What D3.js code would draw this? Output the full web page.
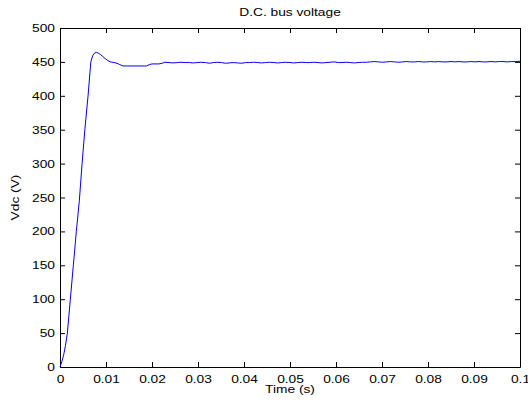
<!DOCTYPE html>
<html>
<head>
<meta charset="utf-8">
<script src="https://cdn.jsdelivr.net/npm/d3@7"></script>
<style>
  body { margin: 0; background: #fff; }
  svg { display: block; font-family: "Liberation Sans", Arial, sans-serif; }
</style>
</head>
<body>
<svg id="chart" width="528" height="403"></svg>
<script>
// cas (s) a napeti DC sbernice (V)
var casy = [0, 0.0004, 0.0008, 0.0012, 0.0016, 0.00225, 0.0029, 0.00355, 0.0042, 0.0048, 0.0054,
  0.0061, 0.0067, 0.0071, 0.0075, 0.0079, 0.0083, 0.0088, 0.0093, 0.0098, 0.0104, 0.011,
  0.0117, 0.0124, 0.013, 0.0137, 0.0145, 0.0188, 0.0194, 0.02, 0.0215, 0.0222, 0.0228,
  0.0237, 0.0246, 0.0255, 0.0263, 0.0272, 0.0281, 0.029, 0.0298, 0.0307, 0.0316, 0.0325,
  0.0333, 0.0342, 0.0351, 0.036, 0.0368, 0.0377, 0.0386, 0.0395, 0.0403, 0.0412, 0.0421,
  0.043, 0.0438, 0.0447, 0.0456, 0.0465, 0.0473, 0.0482, 0.0491, 0.05, 0.0508, 0.0517,
  0.0526, 0.0535, 0.0543, 0.0552, 0.0561, 0.057, 0.0578, 0.0587, 0.0596, 0.0605, 0.0613,
  0.0622, 0.0631, 0.064, 0.0648, 0.0657, 0.0666, 0.0675, 0.0683, 0.0692, 0.0701, 0.071,
  0.0718, 0.0727, 0.0736, 0.0745, 0.0753, 0.0762, 0.0771, 0.078, 0.0788, 0.0797, 0.0806,
  0.0815, 0.0823, 0.0832, 0.0841, 0.085, 0.0858, 0.0867, 0.0876, 0.0885, 0.0893, 0.0902,
  0.0911, 0.092, 0.0928, 0.0937, 0.0946, 0.0955, 0.0963, 0.0972, 0.0981, 0.099, 0.1];
var napeti = [0, 8, 18, 32, 50, 100, 150, 200, 245, 300, 350,
  400, 450, 459, 463, 464, 463, 461, 458, 455, 452, 450,
  449, 448, 446, 444, 444, 444, 446, 447, 447, 448, 449.5,
  449, 448.5, 449, 449.5, 449, 449, 448.5, 449, 449.5, 449, 448,
  449, 449.5, 449, 448, 448.5, 449, 448.5, 448, 449, 449, 449.5,
  449, 448.5, 449, 449.5, 449, 448.5, 449, 449.5, 449, 448.5, 449,
  449.5, 449, 449, 449.5, 449, 448.5, 449, 449.5, 450, 449, 449,
  449.5, 449, 448.5, 449, 449.5, 449.5, 450, 450.5, 450, 449.5, 450,
  450.5, 450, 449.5, 450, 450.5, 450, 450, 450.5, 450, 450, 450.5,
  450, 450.5, 450, 450, 450.5, 450, 450.5, 450, 450, 450.5, 450,
  450.5, 450, 450, 450.5, 450, 450.5, 450.5, 450, 450.5, 450.5, 451];

var xTicks = [0, 0.01, 0.02, 0.03, 0.04, 0.05, 0.06, 0.07, 0.08, 0.09, 0.1];
var xTickLabels = ["0", "0.01", "0.02", "0.03", "0.04", "0.05", "0.06", "0.07", "0.08", "0.09", "0.1"];
var yTicks = [0, 50, 100, 150, 200, 250, 300, 350, 400, 450, 500];

var svg = d3.select("#chart");
var okraj = { left: 60, right: 520, top: 28, bottom: 367 };
var roztazeni = 1.25; // text v predloze je vodorovne roztazeny

var x = d3.scaleLinear().domain([0, 0.1]).range([okraj.left, okraj.right]);
var y = d3.scaleLinear().domain([0, 500]).range([okraj.bottom, okraj.top]);

// osy - ticky dovnitr jako v Matlabu
svg.append("g")
  .attr("class", "osaX")
  .attr("transform", "translate(0," + okraj.bottom + ")")
  .call(d3.axisBottom(x).tickValues(xTicks).tickFormat((d, i) => xTickLabels[i]).tickSizeInner(-5).tickSizeOuter(0).tickPadding(8));
svg.append("g")
  .attr("transform", "translate(0," + okraj.top + ")")
  .call(d3.axisTop(x).tickValues(xTicks).tickFormat("").tickSizeInner(-5).tickSizeOuter(0));
svg.append("g")
  .attr("class", "osaY")
  .attr("transform", "translate(" + okraj.left + ",0)")
  .call(d3.axisLeft(y).tickValues(yTicks).tickSizeInner(-5).tickSizeOuter(0).tickPadding(5));
svg.append("g")
  .attr("transform", "translate(" + okraj.right + ",0)")
  .call(d3.axisRight(y).tickValues(yTicks).tickFormat("").tickSizeInner(-5).tickSizeOuter(0));

svg.selectAll(".domain").attr("stroke", "#000").attr("stroke-width", 1);
svg.selectAll(".tick line").attr("stroke", "#000");
svg.selectAll(".tick text").attr("font-size", 11).attr("fill", "#000")
  .attr("font-family", "Liberation Sans, Arial, sans-serif")
  .attr("transform", "scale(" + roztazeni + ",1)");
// po roztazeni posunout popisky osy Y zpet k ose
svg.selectAll(".osaY .tick text").attr("x", -5 / roztazeni);

// krivka napeti
var data = casy.map((t, i) => [t, napeti[i]]);
var cara = d3.line().x(d => x(d[0])).y(d => y(d[1]));
svg.append("path")
  .datum(data)
  .attr("d", cara)
  .attr("fill", "none")
  .attr("stroke", "#0000ff")
  .attr("stroke-width", 1);

// popisky
function popisek(tx, ty, rot, text) {
  svg.append("text")
    .attr("transform", "translate(" + tx + "," + ty + ") rotate(" + rot + ") scale(" + roztazeni + ",1)")
    .attr("text-anchor", "middle").attr("font-size", 11)
    .text(text);
}
popisek((okraj.left + okraj.right) / 2, 16, 0, "D.C. bus voltage");
popisek((okraj.left + okraj.right) / 2, 393, 0, "Time (s)");
popisek(19, (okraj.top + okraj.bottom) / 2, -90, "Vdc (V)");
</script>
</body>
</html>
